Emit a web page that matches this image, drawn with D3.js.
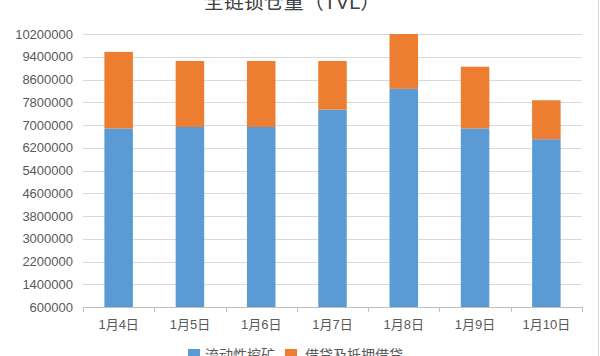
<!DOCTYPE html>
<html><head><meta charset="utf-8">
<script src="https://cdn.jsdelivr.net/npm/d3@7"></script>
<style>
html,body{margin:0;padding:0;background:#fff;}
svg{display:block;}
text{font-family:"Liberation Sans","Noto Sans CJK SC",sans-serif;}
</style></head>
<body>
<script>
const categories = ["1月4日","1月5日","1月6日","1月7日","1月8日","1月9日","1月10日"];
const seriesNames = ["流动性挖矿","借贷及抵押借贷"];
const liquidity = [6880000,6930000,6930000,7540000,8270000,6880000,6500000];
const lending   = [2690000,2320000,2320000,1710000,1930000,2170000,1370000];
const yTicks = [600000,1400000,2200000,3000000,3800000,4600000,5400000,6200000,7000000,7800000,8600000,9400000,10200000];
const titleText = "全链锁仓量（TVL）";
const colors = ["#5B9BD5","#ED7D31"];

(function(){
const W=600,H=356;
const svg=d3.select("body").append("svg").attr("width",W).attr("height",H);
svg.append("rect").attr("width",W).attr("height",H).attr("fill","#fff");
svg.append("line").attr("x1",598.5).attr("x2",598.5).attr("y1",0).attr("y2",H).attr("stroke","#D9D9D9");

const pl=83,pr=582,pt=34,pb=307;
const x=d3.scaleBand().domain(categories).range([pl,pr]).paddingInner(0.6).paddingOuter(0.3);
const xb=d3.scaleBand().domain(categories).range([pl,pr]);
const y=d3.scaleLinear().domain([600000,10200000]).range([pb,pt]);

svg.append("g").selectAll("line").data(yTicks.slice(1)).join("line")
  .attr("x1",pl).attr("x2",pr)
  .attr("y1",d=>Math.round(y(d))+0.5).attr("y2",d=>Math.round(y(d))+0.5)
  .attr("stroke","#D9D9D9");

const yAxis=d3.axisLeft(y).tickValues(yTicks).tickSize(0).tickPadding(10).tickFormat(d3.format("d"));
const gy=svg.append("g").attr("transform",`translate(${pl},0)`).call(yAxis);
gy.select(".domain").remove();
gy.selectAll("text").attr("fill","#595959").attr("font-size",13);

const stackData=categories.map((c,i)=>({cat:c,liq:liquidity[i],lend:lending[i]}));
const stack=d3.stack().keys(["liq","lend"])(stackData);
svg.append("g").selectAll("g").data(stack).join("g").attr("fill",(d,i)=>colors[i])
  .selectAll("rect").data(d=>d).join("rect")
  .attr("x",d=>x(d.data.cat)).attr("width",x.bandwidth())
  .attr("y",d=>y(d[1]))
  .attr("height",d=>y(Math.max(d[0],600000))-y(d[1]));

const xAxis=d3.axisBottom(xb).tickSize(0).tickPadding(13);
const gx=svg.append("g").attr("transform",`translate(0,${pb})`).call(xAxis);
gx.select(".domain").attr("stroke","#BFBFBF").attr("d",`M${pl},0.5H${pr}`);
gx.selectAll("text").attr("fill","#595959").attr("font-size",13);
const bounds=categories.map(c=>xb(c)).concat([pr]);
gx.append("g").selectAll("line").data(bounds).join("line")
  .attr("x1",d=>Math.round(d)+0.5).attr("x2",d=>Math.round(d)+0.5)
  .attr("y1",0).attr("y2",5).attr("stroke","#BFBFBF");

svg.append("text").attr("x",292).attr("y",9).attr("text-anchor","middle")
  .attr("font-size",20).attr("fill","#404040").text(titleText);

const lg=svg.append("g");
const items=[{x:188,tx:205},{x:285,tx:305}];
seriesNames.forEach((n,i)=>{
  lg.append("rect").attr("x",items[i].x).attr("y",349).attr("width",12).attr("height",12).attr("fill",colors[i]);
  lg.append("text").attr("x",items[i].tx).attr("y",360).attr("font-size",14).attr("fill","#595959").text(n);
});
})();
</script>
</body></html>
